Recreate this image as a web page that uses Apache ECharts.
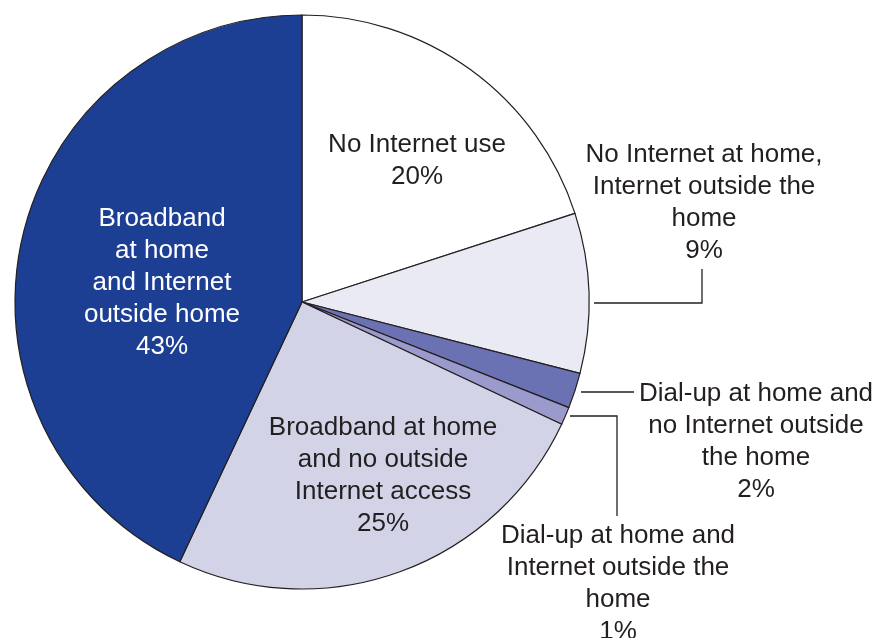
<!DOCTYPE html>
<html>
<head>
<meta charset="utf-8">
<script src="https://cdn.jsdelivr.net/npm/echarts@6/dist/echarts.min.js"></script>
<style>
html, body { margin: 0; padding: 0; background: #ffffff; }
#chart { width: 880px; height: 638px; }
</style>
</head>
<body>
<div id="chart"></div>
<script>
// Data
const categories = [
  'No Internet use',
  'No Internet at home,\nInternet outside the\nhome',
  'Dial-up at home and\nno Internet outside\nthe home',
  'Dial-up at home and\nInternet outside the\nhome',
  'Broadband at home\nand no outside\nInternet access',
  'Broadband\nat home\nand Internet\noutside home'
];
const values = [20, 9, 2, 1, 25, 43];

// Styles
const palette = ['#ffffff', '#eaeaf5', '#6b72b3', '#9a9acc', '#d3d3e8', '#1c3f94'];
const labelColors = ['#231f20', '#231f20', '#231f20', '#231f20', '#231f20', '#ffffff'];
const insideLabel = [true, false, false, false, true, true];

// Label placement (layout only)
const labelPos = [
  { x: 417, y: 161 },
  { x: 704, y: 203, line: [[594, 303], [702, 303], [702, 269]] },
  { x: 756, y: 442, line: [[581, 392], [607, 392], [634, 392]] },
  { x: 618, y: 584, line: [[570, 416], [617, 416], [617, 516]] },
  { x: 383, y: 476 },
  { x: 162, y: 283 }
];

const chart = echarts.init(document.getElementById('chart'), null, { renderer: 'canvas' });

const seriesData = categories.map((name, i) => ({
  name: name,
  value: values[i],
  itemStyle: { color: palette[i] },
  label: { color: labelColors[i] },
  labelLine: { show: !insideLabel[i] }
}));

chart.setOption({
  animation: false,
  backgroundColor: '#ffffff',
  series: [{
    type: 'pie',
    center: [302, 302],
    radius: [0, 287],
    startAngle: 90,
    clockwise: true,
    avoidLabelOverlap: false,
    silent: true,
    data: seriesData,
    itemStyle: {
      borderColor: '#231f20',
      borderWidth: 1.2
    },
    label: {
      show: true,
      position: 'outside',
      formatter: '{b}\n{c}%',
      fontFamily: '"Liberation Sans", Arial, sans-serif',
      fontSize: 26,
      lineHeight: 32,
      align: 'center',
      verticalAlign: 'middle',
      color: '#231f20'
    },
    labelLine: {
      show: true,
      length: 10,
      length2: 10,
      lineStyle: { color: '#231f20', width: 1.3 }
    },
    labelLayout: function (params) {
      const p = labelPos[params.dataIndex];
      const out = {
        x: p.x,
        y: p.y,
        align: 'center',
        verticalAlign: 'middle'
      };
      if (p.line) {
        out.labelLinePoints = p.line;
      }
      return out;
    }
  }]
});
</script>
</body>
</html>
